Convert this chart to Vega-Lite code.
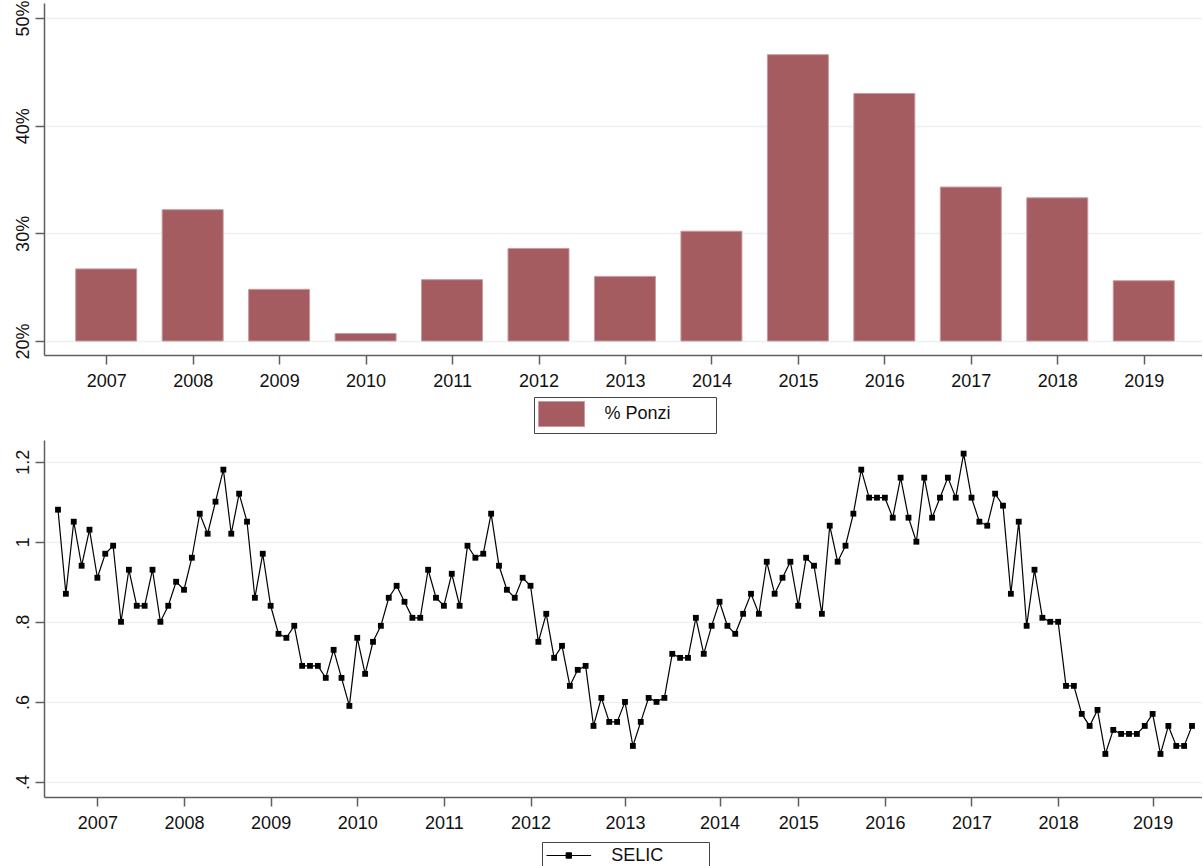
{
  "$schema": "https://vega.github.io/schema/vega-lite/v6.json",
  "padding": {"left": 14, "top": 0, "right": 0, "bottom": 0},
  "background": "white",
  "resolve": {"scale": {"color": "independent"}, "legend": {"color": "independent"}},
  "config": {
    "view": {"stroke": null},
    "font": "Liberation Sans",
    "axis": {
      "labelFont": "Liberation Sans",
      "labelFontSize": 18,
      "labelColor": "#111111",
      "domainColor": "#5f5f5f",
      "domainWidth": 1.5,
      "tickColor": "#5f5f5f",
      "tickWidth": 1.5,
      "tickSize": 9,
      "gridColor": "#EAF2F3",
      "gridWidth": 1.5,
      "title": null
    },
    "legend": {
      "labelFont": "Liberation Sans",
      "labelFontSize": 18,
      "labelColor": "#111111",
      "strokeColor": "#444444",
      "title": null
    }
  },
  "datasets": {
    "ponzi": [
      {"year": 2007, "share": 0.267},
      {"year": 2008, "share": 0.322},
      {"year": 2009, "share": 0.248},
      {"year": 2010, "share": 0.207},
      {"year": 2011, "share": 0.257},
      {"year": 2012, "share": 0.286},
      {"year": 2013, "share": 0.260},
      {"year": 2014, "share": 0.302},
      {"year": 2015, "share": 0.466},
      {"year": 2016, "share": 0.430},
      {"year": 2017, "share": 0.343},
      {"year": 2018, "share": 0.333},
      {"year": 2019, "share": 0.256}
    ],
    "selic": [
      {"t": 0, "selic": 1.08}, {"t": 1, "selic": 0.87}, {"t": 2, "selic": 1.05}, {"t": 3, "selic": 0.94},
      {"t": 4, "selic": 1.03}, {"t": 5, "selic": 0.91}, {"t": 6, "selic": 0.97}, {"t": 7, "selic": 0.99},
      {"t": 8, "selic": 0.80}, {"t": 9, "selic": 0.93}, {"t": 10, "selic": 0.84}, {"t": 11, "selic": 0.84},
      {"t": 12, "selic": 0.93}, {"t": 13, "selic": 0.80}, {"t": 14, "selic": 0.84}, {"t": 15, "selic": 0.90},
      {"t": 16, "selic": 0.88}, {"t": 17, "selic": 0.96}, {"t": 18, "selic": 1.07}, {"t": 19, "selic": 1.02},
      {"t": 20, "selic": 1.10}, {"t": 21, "selic": 1.18}, {"t": 22, "selic": 1.02}, {"t": 23, "selic": 1.12},
      {"t": 24, "selic": 1.05}, {"t": 25, "selic": 0.86}, {"t": 26, "selic": 0.97}, {"t": 27, "selic": 0.84},
      {"t": 28, "selic": 0.77}, {"t": 29, "selic": 0.76}, {"t": 30, "selic": 0.79}, {"t": 31, "selic": 0.69},
      {"t": 32, "selic": 0.69}, {"t": 33, "selic": 0.69}, {"t": 34, "selic": 0.66}, {"t": 35, "selic": 0.73},
      {"t": 36, "selic": 0.66}, {"t": 37, "selic": 0.59}, {"t": 38, "selic": 0.76}, {"t": 39, "selic": 0.67},
      {"t": 40, "selic": 0.75}, {"t": 41, "selic": 0.79}, {"t": 42, "selic": 0.86}, {"t": 43, "selic": 0.89},
      {"t": 44, "selic": 0.85}, {"t": 45, "selic": 0.81}, {"t": 46, "selic": 0.81}, {"t": 47, "selic": 0.93},
      {"t": 48, "selic": 0.86}, {"t": 49, "selic": 0.84}, {"t": 50, "selic": 0.92}, {"t": 51, "selic": 0.84},
      {"t": 52, "selic": 0.99}, {"t": 53, "selic": 0.96}, {"t": 54, "selic": 0.97}, {"t": 55, "selic": 1.07},
      {"t": 56, "selic": 0.94}, {"t": 57, "selic": 0.88}, {"t": 58, "selic": 0.86}, {"t": 59, "selic": 0.91},
      {"t": 60, "selic": 0.89}, {"t": 61, "selic": 0.75}, {"t": 62, "selic": 0.82}, {"t": 63, "selic": 0.71},
      {"t": 64, "selic": 0.74}, {"t": 65, "selic": 0.64}, {"t": 66, "selic": 0.68}, {"t": 67, "selic": 0.69},
      {"t": 68, "selic": 0.54}, {"t": 69, "selic": 0.61}, {"t": 70, "selic": 0.55}, {"t": 71, "selic": 0.55},
      {"t": 72, "selic": 0.60}, {"t": 73, "selic": 0.49}, {"t": 74, "selic": 0.55}, {"t": 75, "selic": 0.61},
      {"t": 76, "selic": 0.60}, {"t": 77, "selic": 0.61}, {"t": 78, "selic": 0.72}, {"t": 79, "selic": 0.71},
      {"t": 80, "selic": 0.71}, {"t": 81, "selic": 0.81}, {"t": 82, "selic": 0.72}, {"t": 83, "selic": 0.79},
      {"t": 84, "selic": 0.85}, {"t": 85, "selic": 0.79}, {"t": 86, "selic": 0.77}, {"t": 87, "selic": 0.82},
      {"t": 88, "selic": 0.87}, {"t": 89, "selic": 0.82}, {"t": 90, "selic": 0.95}, {"t": 91, "selic": 0.87},
      {"t": 92, "selic": 0.91}, {"t": 93, "selic": 0.95}, {"t": 94, "selic": 0.84}, {"t": 95, "selic": 0.96},
      {"t": 96, "selic": 0.94}, {"t": 97, "selic": 0.82}, {"t": 98, "selic": 1.04}, {"t": 99, "selic": 0.95},
      {"t": 100, "selic": 0.99}, {"t": 101, "selic": 1.07}, {"t": 102, "selic": 1.18}, {"t": 103, "selic": 1.11},
      {"t": 104, "selic": 1.11}, {"t": 105, "selic": 1.11}, {"t": 106, "selic": 1.06}, {"t": 107, "selic": 1.16},
      {"t": 108, "selic": 1.06}, {"t": 109, "selic": 1.00}, {"t": 110, "selic": 1.16}, {"t": 111, "selic": 1.06},
      {"t": 112, "selic": 1.11}, {"t": 113, "selic": 1.16}, {"t": 114, "selic": 1.11}, {"t": 115, "selic": 1.22},
      {"t": 116, "selic": 1.11}, {"t": 117, "selic": 1.05}, {"t": 118, "selic": 1.04}, {"t": 119, "selic": 1.12},
      {"t": 120, "selic": 1.09}, {"t": 121, "selic": 0.87}, {"t": 122, "selic": 1.05}, {"t": 123, "selic": 0.79},
      {"t": 124, "selic": 0.93}, {"t": 125, "selic": 0.81}, {"t": 126, "selic": 0.80}, {"t": 127, "selic": 0.80},
      {"t": 128, "selic": 0.64}, {"t": 129, "selic": 0.64}, {"t": 130, "selic": 0.57}, {"t": 131, "selic": 0.54},
      {"t": 132, "selic": 0.58}, {"t": 133, "selic": 0.47}, {"t": 134, "selic": 0.53}, {"t": 135, "selic": 0.52},
      {"t": 136, "selic": 0.52}, {"t": 137, "selic": 0.52}, {"t": 138, "selic": 0.54}, {"t": 139, "selic": 0.57},
      {"t": 140, "selic": 0.47}, {"t": 141, "selic": 0.54}, {"t": 142, "selic": 0.49}, {"t": 143, "selic": 0.49},
      {"t": 144, "selic": 0.54}
    ]
  },
  "spacing": 6,
  "vconcat": [
    {
      "width": 1158,
      "height": 352,
      "data": {"name": "ponzi"},
      "mark": {"type": "bar", "size": 61, "stroke": "#c99a9e", "strokeWidth": 1},
      "encoding": {
        "x": {
          "field": "year", "type": "quantitative",
          "scale": {"domain": [2006.3385, 2019.616], "nice": false, "zero": false},
          "axis": {"values": [2007, 2008, 2009, 2010, 2011, 2012, 2013, 2014, 2015, 2016, 2017, 2018, 2019], "format": "d", "grid": false, "labelPadding": 8, "labelFlush": false}
        },
        "y": {
          "field": "share", "type": "quantitative",
          "scale": {"domain": [0.187, 0.514], "nice": false, "zero": false},
          "axis": {"values": [0.2, 0.3, 0.4, 0.5], "format": ".0%", "grid": true, "labelAngle": 270, "labelAlign": "center", "labelBaseline": "bottom", "labelPadding": 3}
        },
        "y2": {"datum": 0.2},
        "color": {
          "datum": "% Ponzi",
          "scale": {"range": ["#A45C61"]},
          "legend": {
            "orient": "none", "legendX": 490, "legendY": 394,
            "direction": "horizontal",
            "padding": 4,
            "symbolType": "M-1.84,-1H1.84V1H-1.84ZM11.82,0",
            "symbolSize": 625,
            "symbolOffset": 10.5,
            "symbolStrokeColor": "#c99a9e",
            "symbolStrokeWidth": 1,
            "labelOffset": 30
          }
        }
      }
    },
    {
      "width": 1158,
      "height": 357,
      "data": {"name": "selic"},
      "layer": [
        {
          "mark": {"type": "line", "strokeWidth": 1.2},
          "encoding": {
            "x": {
              "field": "t", "type": "quantitative",
              "scale": {"domain": [-1.778, 145.27], "nice": false, "zero": false},
              "axis": {"values": [5, 16, 27, 38, 49, 60, 72, 84, 94, 105, 116, 127, 139], "labelExpr": "'' + (2007 + indexof([5, 16, 27, 38, 49, 60, 72, 84, 94, 105, 116, 127, 139], datum.value))", "grid": false, "labelPadding": 8, "labelFlush": false}
            },
            "y": {
              "field": "selic", "type": "quantitative",
              "scale": {"domain": [0.3625, 1.254], "nice": false, "zero": false},
              "axis": {"values": [0.4, 0.6, 0.8, 1, 1.2], "labelExpr": "datum.value < 1 ? replace(format(datum.value, '.1f'), '0.', '.') : format(datum.value, '~g')", "grid": true, "labelAngle": 270, "labelAlign": "center", "labelBaseline": "bottom", "labelPadding": 3}
            },
            "color": {
              "datum": "SELIC",
              "scale": {"range": ["#000000"]},
              "legend": {
                "orient": "none", "legendX": 498, "legendY": 402,
                "direction": "horizontal",
                "padding": 4,
                "symbolType": "M-2.48,0H2.48M-0.3,-0.3H0.3V0.3H-0.3ZM14.87,0",
                "symbolSize": 324,
                "symbolOffset": 13.3,
                "symbolStrokeWidth": 1,
                "symbolFillColor": "#000000",
                "labelOffset": 33,
                "encode": {"symbols": {"update": {"fill": {"value": "#000000"}, "stroke": {"value": "#000000"}}}}
              }
            }
          }
        },
        {
          "mark": {"type": "point", "shape": "square", "filled": true, "size": 34, "color": "#000000", "opacity": 1},
          "encoding": {
            "x": {"field": "t", "type": "quantitative"},
            "y": {"field": "selic", "type": "quantitative"}
          }
        }
      ]
    }
  ]
}
